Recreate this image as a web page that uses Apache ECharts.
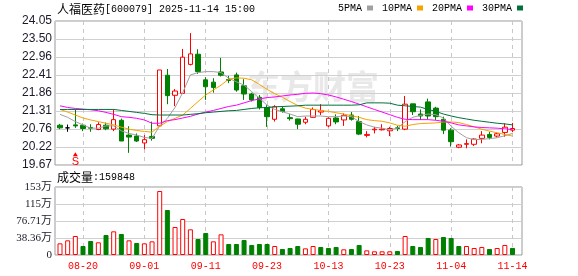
<!DOCTYPE html>
<html><head><meta charset="utf-8">
<script src="https://cdn.jsdelivr.net/npm/echarts@6/dist/echarts.min.js"></script>
<style>html,body{margin:0;padding:0;background:#fff}#c{width:578px;height:276px}</style>
</head><body><div id="c"></div>
<script>
const dates = ['2025-08-15','2025-08-18','2025-08-19','2025-08-20','2025-08-21','2025-08-22','2025-08-25','2025-08-26','2025-08-27','2025-08-28',
'2025-08-29','2025-09-01','2025-09-02','2025-09-03','2025-09-04','2025-09-05','2025-09-08','2025-09-09','2025-09-10','2025-09-11',
'2025-09-12','2025-09-15','2025-09-16','2025-09-17','2025-09-18','2025-09-19','2025-09-22','2025-09-23','2025-09-24','2025-09-25',
'2025-09-26','2025-09-29','2025-09-30','2025-10-09','2025-10-10','2025-10-13','2025-10-14','2025-10-15','2025-10-16','2025-10-17',
'2025-10-20','2025-10-21','2025-10-22','2025-10-23','2025-10-24','2025-10-27','2025-10-28','2025-10-29','2025-10-30','2025-10-31',
'2025-11-03','2025-11-04','2025-11-05','2025-11-06','2025-11-07','2025-11-10','2025-11-11','2025-11-12','2025-11-13','2025-11-14'];
const tickDates = ['2025-08-20','2025-09-01','2025-09-11','2025-09-23','2025-10-13','2025-10-23','2025-11-04','2025-11-14'];
const open = [20.88,20.80,20.89,20.88,20.81,20.75,20.88,20.76,21.03,20.58, 20.55,20.34,20.54,20.86,22.40,21.79,21.85,22.73,23.04,22.26,
22.19,22.50,22.27,22.41,22.08,21.83,21.73,21.42,21.06,21.38, 21.11,21.07,20.97,21.12,21.28,20.86,21.10,21.04,21.19,20.99,
20.57,20.74,20.74,20.71,20.80,20.76,21.53,21.22,21.59,21.40, 21.06,20.73,20.21,20.30,20.30,20.48,20.60,20.55,20.66,20.73];
const close = [20.80,20.80,20.86,20.78,20.79,20.90,20.77,21.05,20.40,20.52, 20.40,20.44,20.48,22.56,21.78,21.92,22.95,23.05,22.51,22.05,
22.03,22.40,22.24,21.95,21.83,21.65,21.42,21.14,21.44,21.30, 21.08,20.91,21.06,21.36,21.32,21.09,20.98,21.18,21.06,20.61,
20.60,20.76,20.76,20.78,20.78,21.52,21.29,21.16,21.16,21.14, 20.73,20.38,20.28,20.32,20.46,20.58,20.51,20.62,20.82,20.78];
const low = [20.76,20.68,20.80,20.70,20.68,20.73,20.73,20.70,20.40,20.04, 20.37,20.15,20.41,20.83,21.52,21.46,21.84,22.70,22.44,21.65,
21.87,22.36,22.16,21.90,21.65,21.60,21.36,20.83,20.99,21.26, 21.02,20.76,20.91,21.11,21.19,20.82,20.91,20.86,21.02,20.58,
20.51,20.63,20.72,20.55,20.70,20.73,21.19,21.04,21.06,21.04, 20.61,20.23,20.18,20.18,20.25,20.33,20.45,20.51,20.53,20.67];
const high = [20.92,20.90,21.36,20.93,20.91,20.97,20.96,21.36,21.08,20.85, 20.63,20.58,20.99,22.56,22.59,21.98,23.20,23.68,23.19,22.34,
22.31,22.93,22.38,22.48,22.28,21.87,21.80,21.49,21.49,21.46, 21.22,21.08,21.14,21.42,21.52,21.12,21.21,21.24,21.28,21.16,
20.70,20.83,20.91,20.83,20.86,21.77,21.53,21.36,21.69,21.44, 21.14,20.79,20.31,20.45,20.48,20.70,20.68,20.66,20.94,20.95];
const ma5 = [21.21,21.12,20.99,20.89,20.79,20.79,20.86,20.86,20.71,20.63, 20.58,20.51,20.48,20.86,21.09,21.42,21.87,22.41,22.48,22.51,
22.51,22.48,22.31,22.20,22.10,21.90,21.70,21.49,21.36,21.29, 21.22,21.14,21.16,21.16,21.16,21.14,21.14,21.16,21.14,20.99,
20.89,20.82,20.79,20.74,20.79,20.99,21.12,21.18,21.22,21.20, 21.10,20.85,20.65,20.50,20.44,20.45,20.47,20.50,20.56,20.63];
const ma10 = [21.36,21.28,21.19,21.10,21.04,20.99,20.94,20.89,20.82,20.76, 20.72,20.69,20.67,20.85,20.99,21.09,21.19,21.39,21.60,21.80,
21.95,22.10,22.28,22.32,22.31,22.26,22.12,21.97,21.84,21.73, 21.60,21.48,21.40,21.36,21.33,21.30,21.26,21.22,21.17,21.12,
21.05,21.02,21.00,20.95,20.88,20.85,20.90,20.93,20.94,20.95, 20.98,20.98,20.96,20.90,20.83,20.76,20.70,20.65,20.60,20.55];
const ma20 = [21.47,21.42,21.39,21.37,21.35,21.32,21.27,21.21,21.14,21.12, 21.09,21.04,20.94,20.94,21.02,21.05,21.10,21.15,21.22,21.28,
21.33,21.39,21.45,21.49,21.56,21.63,21.68,21.72,21.74,21.77, 21.80,21.82,21.85,21.86,21.84,21.80,21.74,21.67,21.60,21.52,
21.44,21.36,21.28,21.20,21.12,21.06,21.05,21.05,21.05,21.03, 21.00,20.95,20.89,20.86,20.83,20.81,20.80,20.79,20.77,20.75];
const ma30 = [21.36,21.36,21.36,21.36,21.36,21.36,21.36,21.36,21.33,21.30, 21.27,21.24,21.20,21.19,21.19,21.19,21.19,21.21,21.23,21.26,
21.28,21.30,21.32,21.33,21.36,21.39,21.41,21.42,21.44,21.45, 21.46,21.47,21.49,21.49,21.49,21.49,21.49,21.49,21.49,21.50,
21.56,21.56,21.56,21.55,21.49,21.47,21.45,21.43,21.36,21.30, 21.22,21.16,21.11,21.07,21.03,21.00,20.97,20.94,20.92,20.89];
const volume = [263000,331000,429000,203000,316000,286000,451000,534000,474000,331000,
271000,263000,308000,1444000,1015000,632000,812000,579000,361000,496000,
308000,466000,248000,248000,338000,226000,248000,248000,203000,135000,
158000,203000,150000,203000,181000,158000,181000,128000,135000,226000,
105000,83000,83000,83000,90000,429000,203000,181000,384000,361000,
406000,384000,203000,203000,158000,181000,135000,158000,226000,159848];
const volDir = [1,1,1,-1,-1,1,-1,1,-1,1, -1,1,1,1,-1,1,1,1,-1,-1,
1,1,-1,-1,-1,-1,-1,-1,1,-1, -1,-1,1,1,-1,-1,-1,1,-1,-1,
1,1,1,1,-1,1,-1,-1,-1,1, -1,-1,-1,1,1,1,-1,1,1,-1];
const priceTicks = ['19.67','20.22','20.76','21.31','21.86','22.41','22.96','23.50','24.05'];
const volTicks = ['0','38.36万','76.71万','115万','153万'];
const priceMin = 19.67, priceMax = 24.05, volMax = 1534300;
const signalDate = '2025-08-19', signalPrice = 20.0;

const RED = '#ff0000', GREEN = '#008000';
const mono = '"Liberation Mono", "Noto Sans CJK SC", monospace';
const cjk = '"Noto Sans CJK SC", sans-serif';
const chart = echarts.init(document.getElementById('c'), null, {renderer: 'canvas'});
const candle = dates.map((d, i) => [open[i], close[i], low[i], high[i]]);
const dashed = {show: true, interval: (i, v) => tickDates.includes(v), lineStyle: {color: '#c8c8c8', type: [4, 4], width: 1}};
const solid = {show: true, lineStyle: {color: '#d0d0d0', width: 1}};
const maLine = (name, data, color) => ({name, type: 'line', xAxisIndex: 1, yAxisIndex: 1, data, showSymbol: false, symbol: 'none',
  color, itemStyle: {color}, lineStyle: {color, width: 1}, smooth: false, z: 3, silent: true});
const titleRich = {a: {fontSize: 12, fontFamily: cjk, color: '#000', fontWeight: 'normal'},
  b: {fontSize: 10, fontFamily: mono, color: '#000', fontWeight: 'normal'}};

chart.setOption({
  animation: false,
  backgroundColor: '#fff',
  title: [
    {left: 57, top: 3, padding: 0, text: '{a|人福医药}{b|[600079] 2025-11-14 15:00}',
      textStyle: {fontWeight: 'normal', rich: titleRich}},
    {left: 57, top: 171, padding: 0, text: '{a|成交量}{b|:' + volume[volume.length - 1] + '}',
      textStyle: {fontWeight: 'normal', rich: titleRich}}
  ],
  legend: {left: 338, top: 3, padding: 0, align: 'right', icon: 'rect', itemWidth: 6, itemHeight: 5, itemGap: 9,
    textStyle: {fontFamily: mono, fontSize: 10, color: '#000'}, selectedMode: false,
    data: ['5PMA', '10PMA', '20PMA', '30PMA']},
  graphic: [{type: 'text', left: 247, top: 70, z: -10, silent: true,
    style: {text: '东方财富', font: 'bold 33px "Noto Sans CJK SC"', fill: '#e8e8e8'}}],
  grid: [
    {left: 55, top: 21, width: 467, height: 144, show: true, borderColor: '#999', borderWidth: 1, backgroundColor: 'transparent'},
    {left: 60, top: 21, width: 452.5, height: 144},
    {left: 55, top: 187, width: 467, height: 68, show: true, borderColor: '#999', borderWidth: 1, backgroundColor: 'transparent'},
    {left: 60, top: 187, width: 452.5, height: 68}
  ],
  xAxis: [
    {gridIndex: 0, type: 'value', min: 0, max: 1, show: false},
    {gridIndex: 1, type: 'category', data: dates, boundaryGap: false, axisLine: {show: false}, axisTick: {show: false},
      axisLabel: {show: false}, splitLine: dashed},
    {gridIndex: 2, type: 'value', min: 0, max: 1, show: false},
    {gridIndex: 3, type: 'category', data: dates, boundaryGap: false, axisLine: {show: false}, axisTick: {show: false},
      axisLabel: {interval: (i, v) => tickDates.includes(v), formatter: v => v.slice(5), color: RED, fontFamily: mono, fontSize: 10, margin: 6},
      splitLine: dashed}
  ],
  yAxis: [
    {gridIndex: 0, type: 'value', min: 0, max: 8, interval: 1, axisLine: {show: false}, axisTick: {show: false},
      axisLabel: {formatter: v => priceTicks[v], margin: 3, fontSize: 12, color: '#1a1a2a', fontFamily: '"Liberation Sans", Arial'}, splitLine: solid},
    {gridIndex: 1, type: 'value', min: priceMin, max: priceMax, show: false, splitLine: {show: false}},
    {gridIndex: 2, type: 'value', min: 0, max: 4, interval: 1, axisLine: {show: false}, axisTick: {show: false},
      axisLabel: {formatter: v => volTicks[v], margin: 3, fontSize: 11, color: '#1a1a2a', fontFamily: '"Liberation Serif", "Noto Sans CJK SC"'}, splitLine: solid},
    {gridIndex: 3, type: 'value', min: 0, max: volMax, show: false, splitLine: {show: false}}
  ],
  series: [
    {name: 'K', type: 'candlestick', xAxisIndex: 1, yAxisIndex: 1, data: candle, barWidth: 5, clip: false, z: 2,
      itemStyle: {color: '#ffffff', color0: GREEN, borderColor: RED, borderColor0: GREEN, borderColorDoji: '#000', borderWidth: 1},
      markPoint: {silent: true, symbol: 'triangle', symbolSize: [5, 4],
        data: [{coord: [signalDate, signalPrice], itemStyle: {color: RED},
          label: {show: true, position: 'bottom', distance: 0, formatter: 'S', color: RED, fontSize: 11, fontFamily: '"Liberation Sans"'}}]}},
    maLine('5PMA', ma5, '#a0a0a0'),
    maLine('10PMA', ma10, '#f5a300'),
    maLine('20PMA', ma20, '#ff00ff'),
    maLine('30PMA', ma30, '#00703c'),
    {name: 'VOL', type: 'bar', xAxisIndex: 3, yAxisIndex: 3, barWidth: 5, clip: false,
      data: volume.map((v, i) => ({value: v, itemStyle: volDir[i] > 0
        ? {color: '#ffffff', borderColor: RED, borderWidth: 1}
        : {color: GREEN, borderColor: GREEN, borderWidth: 1}}))}
  ]
});
</script></body></html>
